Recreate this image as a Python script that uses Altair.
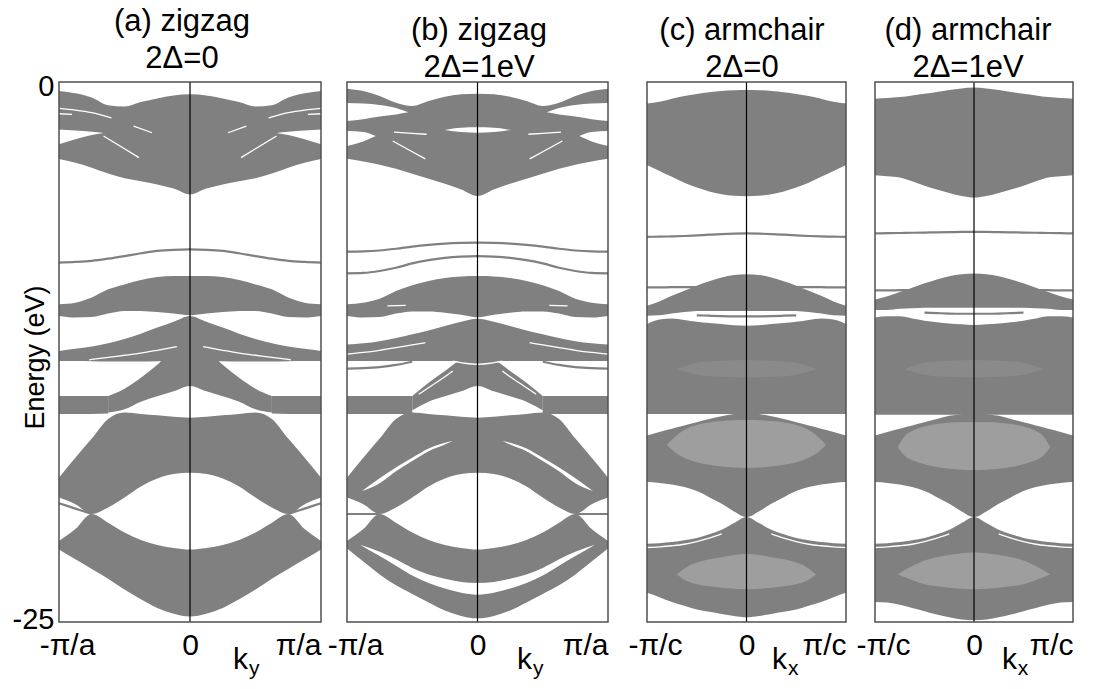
import altair as alt
import pandas as pd

FONT = "Liberation Sans, Arial, sans-serif"
GRAY = "#808080"
LIGHT = "#9e9e9e"
FAINT = "#8a8a8a"
FRAME = "#505050"

# common k grid (left half, mirrored to the right)
K = [-1.0, -0.875, -0.75, -0.625, -0.5, -0.375, -0.25, -0.125, 0.0]

# ---------------- panel (a) zigzag 2D=0 ----------------
A_G1_HI = [-0.42, -0.52, -0.72, -1.08, -1.14, -0.93, -0.76, -0.62, -0.57]
A_G1_LO = [-3.56, -3.74, -3.97, -4.24, -4.46, -4.6, -4.74, -4.93, -5.2]
A_W1_K = [-1.0, -0.875, -0.75, -0.66]
A_W1_HI = [-2.2, -2.25, -2.3, -2.36]
A_W1_LO = [-2.88, -2.65, -2.45, -2.36]
A_WL1_K = [-1.0, -0.875, -0.75, -0.6]
A_WL1 = [-1.22, -1.3, -1.42, -1.66]
A_WL2_K = [-1.0, -0.9]
A_WL2 = [-1.47, -1.5]
A_WL3_K = [-0.66, -0.5, -0.39]
A_WL3 = [-2.5, -3.09, -3.5]
A_WL4_K = [-0.43, -0.29]
A_WL4 = [-2.04, -2.35]
A_L1 = [-8.36, -8.33, -8.28, -8.18, -8.06, -7.93, -7.82, -7.77, -7.75]
A_G2_HI = [-10.29, -10.22, -9.98, -9.6, -9.37, -9.17, -9.03, -8.98, -8.98]
A_G2_LO = [-10.83, -10.9, -10.88, -10.72, -10.6, -10.6, -10.65, -10.72, -10.8]
A_G3_HI = [-12.45, -12.35, -12.25, -12.1, -11.9, -11.65, -11.37, -11.1, -10.83]
A_G3_LO = [-12.92, -12.92, -12.93, -12.94, -12.94, -12.94, -12.93, -12.92, -12.92]
A_WL5_K = [-0.77, -0.625, -0.5, -0.375, -0.25, -0.1]
A_WL5 = [-12.86, -12.75, -12.65, -12.55, -12.42, -12.25]
A_B_K = [-0.625, -0.5, -0.375, -0.25, -0.125, 0.0]
A_B_HI = [-14.54, -14.2, -13.69, -13.09, -12.38, -12.2]
A_B_LO = [-15.3, -15.15, -14.8, -14.55, -14.32, -14.07]
A_G4_K = [-1.0, -0.875, -0.75, -0.625]
A_G4_HI = [-14.54, -14.54, -14.54, -14.54]
A_G4_LO = [-15.37, -15.37, -15.37, -15.35]
A_G5_HI = [-18.32, -17.4, -16.51, -15.6, -15.3, -15.37, -15.43, -15.5, -15.54]
A_G5_LO = [-19.24, -19.55, -20.0, -19.7, -19.24, -18.73, -18.36, -18.15, -18.09]
A_G6_HI = [-21.25, -20.7, -20.0, -20.4, -20.86, -21.2, -21.43, -21.57, -21.64]
A_G6_LO = [-21.64, -22.1, -22.55, -23.0, -23.5, -23.95, -24.35, -24.62, -24.75]
A_L2_K = [-1.0, -0.875, -0.75]
A_L2 = [-19.5, -19.75, -20.0]

# ---------------- panel (b) zigzag 2D=1eV ----------------
B_G1_HI = [-0.31, -0.42, -0.65, -0.96, -1.11, -0.88, -0.68, -0.57, -0.54]
B_G1_LO = [-3.55, -3.68, -3.83, -4.02, -4.25, -4.48, -4.71, -4.98, -5.28]
B_W1_K = [-1.0, -0.875, -0.75, -0.625, -0.53]
B_W1_HI = [-0.97, -1.0, -1.06, -1.2, -1.4]
B_W1_LO = [-1.8, -1.72, -1.6, -1.5, -1.4]
B_W2_K = [-1.0, -0.875, -0.78]
B_W2_HI = [-2.27, -2.32, -2.5]
B_W2_LO = [-2.96, -2.75, -2.5]
B_W3_K = [-0.25, -0.125, 0.0]
B_W3_HI = [-2.22, -2.12, -2.1]
B_W3_LO = [-2.22, -2.32, -2.35]
B_WL1_K = [-0.64, -0.5, -0.39]
B_WL1 = [-2.32, -2.38, -2.42]
B_WL2_K = [-0.65, -0.5, -0.4]
B_WL2 = [-2.73, -3.23, -3.56]
B_L1 = [-7.85, -7.84, -7.8, -7.72, -7.62, -7.54, -7.48, -7.45, -7.44]
B_L2 = [-8.86, -8.84, -8.75, -8.6, -8.4, -8.25, -8.14, -8.08, -8.06]
B_G2_HI = [-10.29, -10.22, -10.04, -9.68, -9.41, -9.21, -9.07, -9.0, -8.98]
B_G2_LO = [-10.83, -10.9, -10.88, -10.72, -10.62, -10.62, -10.68, -10.78, -10.9]
B_WL3_K = [-0.69, -0.55]
B_WL3 = [-10.36, -10.34]
B_G3_HI = [-12.15, -12.1, -12.0, -11.85, -11.68, -11.5, -11.3, -11.1, -10.96]
B_G3_LO = [-12.92, -12.92, -12.92, -12.92, -12.92, -12.92, -12.92, -12.92, -12.92]
B_WL4_K = [-1.0, -0.875, -0.75, -0.625, -0.5, -0.4]
B_WL4 = [-12.6, -12.52, -12.42, -12.3, -12.17, -12.07]
B_L3_K = [-1.0, -0.875, -0.75, -0.625, -0.5]
B_L3 = [-13.27, -13.25, -13.2, -13.1, -12.95]
B_B_K = [-0.5, -0.375, -0.25, -0.125, 0.0]
B_B_HI = [-14.54, -13.92, -13.38, -12.84, -12.5]
B_B_LO = [-15.2, -14.8, -14.55, -14.32, -14.07]
B_G4_K = [-1.0, -0.875, -0.75, -0.625, -0.5]
B_G4_HI = [-14.54, -14.54, -14.54, -14.54, -14.54]
B_G4_LO = [-15.37, -15.37, -15.37, -15.37, -15.37]
B_WL5_K = [-0.45, -0.35, -0.25, -0.19]
B_WL5 = [-14.46, -14.05, -13.65, -13.38]
B_WL6_K = [-0.19, -0.1, 0.0]
B_WL6 = [-12.92, -13.02, -13.07]
B_G5_HI = [-18.32, -17.4, -16.51, -15.6, -15.3, -15.37, -15.43, -15.5, -15.54]
B_G5_LO = [-19.24, -19.55, -20.0, -19.7, -19.24, -18.73, -18.36, -18.15, -18.09]
B_W4_K = [-0.885, -0.75, -0.625, -0.5, -0.375, -0.25, -0.19]
B_W4_HI = [-18.94, -18.35, -17.85, -17.4, -16.97, -16.7, -16.62]
B_W4_LO = [-18.94, -18.58, -18.02, -17.55, -17.09, -16.78, -16.62]
B_G6_HI = [-21.25, -20.7, -20.0, -20.4, -20.86, -21.2, -21.43, -21.57, -21.64]
B_G6_LO = [-21.6, -22.2, -22.8, -23.3, -23.7, -24.1, -24.47, -24.72, -24.83]
B_W5_K = [-0.9, -0.75, -0.625, -0.5, -0.375, -0.25, -0.125, 0.0]
B_W5_HI = [-21.42, -21.75, -22.1, -22.5, -22.8, -23.0, -23.15, -23.2]
B_W5_LO = [-21.42, -21.95, -22.4, -22.85, -23.2, -23.45, -23.65, -23.74]
B_L4_K = [-1.0, -0.875, -0.75]
B_L4 = [-20.0, -20.0, -20.0]

# ---------------- panel (c) armchair 2D=0 ----------------
C_G1_HI = [-1.0, -0.92, -0.77, -0.65, -0.55, -0.48, -0.42, -0.38, -0.37]
C_G1_LO = [-3.84, -4.12, -4.39, -4.66, -4.89, -5.07, -5.2, -5.27, -5.29]
C_L1 = [-7.17, -7.16, -7.15, -7.13, -7.1, -7.07, -7.04, -7.02, -7.01]
C_L2 = [-9.51, -9.51, -9.5, -9.5, -9.49, -9.48, -9.47, -9.46, -9.46]
C_R1_HI = [-10.36, -10.16, -9.9, -9.66, -9.43, -9.23, -9.05, -8.93, -8.9]
C_R1_LO = [-15.37, -15.37, -15.37, -15.37, -15.37, -15.37, -15.37, -15.37, -15.37]
C_W1_HI = [-10.82, -10.8, -10.72, -10.65, -10.6, -10.6, -10.6, -10.6, -10.6]
C_W1_LO = [-11.2, -11.0, -10.95, -11.02, -11.1, -11.16, -11.2, -11.26, -11.28]
C_L3_K = [-0.5, -0.375, -0.25, -0.125, 0.0]
C_L3 = [-10.8, -10.82, -10.84, -10.85, -10.85]
C_R2_HI = [-16.37, -16.2, -16.05, -15.9, -15.75, -15.6, -15.47, -15.37, -15.3]
C_R2_LO = [-18.52, -18.56, -18.63, -18.75, -18.94, -19.22, -19.53, -19.88, -20.14]
C_R3_HI = [-21.38, -21.35, -21.3, -21.22, -21.11, -20.94, -20.73, -20.42, -20.14]
C_R3_LO = [-23.65, -23.85, -24.07, -24.25, -24.42, -24.53, -24.63, -24.72, -24.78]
C_WL1_K = [-1.0, -0.875, -0.75, -0.625, -0.5, -0.375, -0.25]
C_WL1 = [-21.55, -21.52, -21.47, -21.4, -21.28, -21.12, -20.92]
C_LS0_K = [-0.7, -0.5, -0.25, 0.0]
C_LS0_HI = [-13.3, -13.0, -12.9, -12.88]
C_LS0_LO = [-13.3, -13.55, -13.65, -13.68]
C_LS1_K = [-0.8, -0.7, -0.6, -0.5, -0.375, -0.25, -0.125, 0.0]
C_LS1_HI = [-16.8, -16.35, -16.05, -15.88, -15.76, -15.7, -15.66, -15.65]
C_LS1_LO = [-16.8, -17.2, -17.45, -17.6, -17.72, -17.8, -17.85, -17.87]
C_LS2_K = [-0.7, -0.6, -0.5, -0.375, -0.25, -0.125, 0.0]
C_LS2_HI = [-22.8, -22.45, -22.25, -22.1, -22.0, -21.9, -21.85]
C_LS2_LO = [-22.8, -23.1, -23.25, -23.35, -23.42, -23.46, -23.48]

# ---------------- panel (d) armchair 2D=1eV ----------------
D_G1_HI = [-0.77, -0.74, -0.7, -0.62, -0.54, -0.46, -0.37, -0.3, -0.26]
D_G1_LO = [-4.32, -4.36, -4.42, -4.6, -4.8, -4.98, -5.14, -5.28, -5.35]
D_L1 = [-7.01, -7.0, -6.99, -6.98, -6.97, -6.96, -6.95, -6.94, -6.94]
D_L2 = [-9.65, -9.65, -9.64, -9.63, -9.62, -9.61, -9.6, -9.6, -9.6]
D_R1_HI = [-10.07, -9.92, -9.72, -9.52, -9.32, -9.14, -8.99, -8.9, -8.86]
D_R1_LO = [-15.41, -15.41, -15.41, -15.41, -15.41, -15.41, -15.41, -15.41, -15.41]
D_W1_HI = [-10.55, -10.55, -10.5, -10.48, -10.45, -10.45, -10.45, -10.45, -10.45]
D_W1_LO = [-10.9, -10.85, -10.85, -10.95, -11.05, -11.12, -11.18, -11.22, -11.25]
D_L3_K = [-0.5, -0.375, -0.25, -0.125, 0.0]
D_L3 = [-10.68, -10.7, -10.72, -10.73, -10.73]
D_R2_HI = [-16.37, -16.2, -16.05, -15.9, -15.75, -15.6, -15.45, -15.38, -15.3]
D_R2_LO = [-18.52, -18.56, -18.63, -18.75, -18.94, -19.22, -19.53, -19.88, -20.14]
D_R3_HI = [-21.38, -21.35, -21.3, -21.22, -21.11, -20.94, -20.73, -20.42, -20.14]
D_R3_LO = [-24.07, -24.1, -24.2, -24.35, -24.5, -24.65, -24.78, -24.88, -24.92]
D_WL1_K = [-1.0, -0.875, -0.75, -0.625, -0.5, -0.375, -0.25]
D_WL1 = [-21.55, -21.52, -21.47, -21.4, -21.28, -21.12, -20.92]
D_LS0_K = [-0.7, -0.5, -0.25, 0.0]
D_LS0_HI = [-13.3, -13.0, -12.9, -12.88]
D_LS0_LO = [-13.3, -13.55, -13.65, -13.68]
D_LS1_K = [-0.77, -0.7, -0.6, -0.5, -0.375, -0.25, -0.125, 0.0]
D_LS1_HI = [-16.9, -16.4, -16.1, -15.95, -15.83, -15.77, -15.75, -15.75]
D_LS1_LO = [-16.9, -17.3, -17.55, -17.7, -17.82, -17.9, -17.95, -17.97]
D_LS2_K = [-0.77, -0.6, -0.5, -0.375, -0.25, -0.125, 0.0]
D_LS2_HI = [-22.8, -22.35, -22.15, -22.0, -21.9, -21.82, -21.78]
D_LS2_LO = [-22.8, -23.1, -23.25, -23.35, -23.42, -23.46, -23.48]


def mirrored(name, ks, hi, lo=None):
    pts = [(k, hi[i], (lo[i] if lo is not None else None)) for i, k in enumerate(ks)]
    rows = []
    if abs(pts[-1][0]) < 1e-9:
        for k, h, l in pts:
            rows.append({"id": name, "k": k, "hi": h, "lo": l})
        for k, h, l in reversed(pts[:-1]):
            rows.append({"id": name, "k": -k, "hi": h, "lo": l})
    else:
        for k, h, l in pts:
            rows.append({"id": name + "L", "k": k, "hi": h, "lo": l})
        for k, h, l in reversed(pts):
            rows.append({"id": name + "R", "k": -k, "hi": h, "lo": l})
    return rows


def table(items):
    rows = []
    for it in items:
        rows += mirrored(*it)
    return pd.DataFrame(rows)


PANELS = {
    "a": {
        "gray": [("g1", K, A_G1_HI, A_G1_LO), ("g2", K, A_G2_HI, A_G2_LO), ("g3", K, A_G3_HI, A_G3_LO),
                 ("b", A_B_K, A_B_HI, A_B_LO), ("g4", A_G4_K, A_G4_HI, A_G4_LO),
                 ("g5", K, A_G5_HI, A_G5_LO), ("g6", K, A_G6_HI, A_G6_LO)],
        "white": [("w1", A_W1_K, A_W1_HI, A_W1_LO)],
        "glines": [("l1", K, A_L1), ("l2", A_L2_K, A_L2)],
        "wlines": [("wl1", A_WL1_K, A_WL1), ("wl2", A_WL2_K, A_WL2), ("wl3", A_WL3_K, A_WL3),
                   ("wl4", A_WL4_K, A_WL4), ("wl5", A_WL5_K, A_WL5)],
    },
    "b": {
        "gray": [("g1", K, B_G1_HI, B_G1_LO), ("g2", K, B_G2_HI, B_G2_LO), ("g3", K, B_G3_HI, B_G3_LO),
                 ("b", B_B_K, B_B_HI, B_B_LO), ("g4", B_G4_K, B_G4_HI, B_G4_LO),
                 ("g5", K, B_G5_HI, B_G5_LO), ("g6", K, B_G6_HI, B_G6_LO)],
        "white": [("w1", B_W1_K, B_W1_HI, B_W1_LO), ("w2", B_W2_K, B_W2_HI, B_W2_LO),
                  ("w3", B_W3_K, B_W3_HI, B_W3_LO), ("w4", B_W4_K, B_W4_HI, B_W4_LO),
                  ("w5", B_W5_K, B_W5_HI, B_W5_LO)],
        "glines": [("l1", K, B_L1), ("l2", K, B_L2), ("l3", B_L3_K, B_L3), ("l4", B_L4_K, B_L4)],
        "wlines": [("wl1", B_WL1_K, B_WL1), ("wl2", B_WL2_K, B_WL2), ("wl3", B_WL3_K, B_WL3),
                   ("wl4", B_WL4_K, B_WL4), ("wl5", B_WL5_K, B_WL5), ("wl6", B_WL6_K, B_WL6)],
    },
    "c": {
        "gray": [("g1", K, C_G1_HI, C_G1_LO), ("r1", K, C_R1_HI, C_R1_LO),
                 ("r2", K, C_R2_HI, C_R2_LO), ("r3", K, C_R3_HI, C_R3_LO)],
        "faint": [("s0", C_LS0_K, C_LS0_HI, C_LS0_LO)],
        "light": [("s1", C_LS1_K, C_LS1_HI, C_LS1_LO), ("s2", C_LS2_K, C_LS2_HI, C_LS2_LO)],
        "white": [("w1", K, C_W1_HI, C_W1_LO)],
        "glines": [("l1", K, C_L1), ("l2", K, C_L2), ("l3", C_L3_K, C_L3)],
        "wlines": [("wl1", C_WL1_K, C_WL1)],
    },
    "d": {
        "gray": [("g1", K, D_G1_HI, D_G1_LO), ("r1", K, D_R1_HI, D_R1_LO),
                 ("r2", K, D_R2_HI, D_R2_LO), ("r3", K, D_R3_HI, D_R3_LO)],
        "faint": [("s0", D_LS0_K, D_LS0_HI, D_LS0_LO)],
        "light": [("s1", D_LS1_K, D_LS1_HI, D_LS1_LO), ("s2", D_LS2_K, D_LS2_HI, D_LS2_LO)],
        "white": [("w1", K, D_W1_HI, D_W1_LO)],
        "glines": [("l1", K, D_L1), ("l2", K, D_L2), ("l3", D_L3_K, D_L3)],
        "wlines": [("wl1", D_WL1_K, D_WL1)],
    },
}

H = 540


def panel(key, width, xmax, title, dx, unit, sub, kx, subx, show_y):
    p = PANELS[key]
    xs = alt.Scale(domain=[-1, xmax], nice=False, zero=False, padding=0)
    ys = alt.Scale(domain=[-25, 0], nice=False, zero=False)
    xaxis = alt.Axis(
        values=[-1, 0, 1],
        labelExpr=f"datum.value < 0 ? '-\u03c0/{unit}' : (datum.value > 0 ? '\u03c0/{unit}' : '0')",
        domain=False, ticks=False, tickSize=0, grid=False,
        labelFontSize=30, labelFont=FONT, labelColor="black", labelPadding=8,
        labelFlush=False, labelOverlap=False,
        labelAlign={"condition": {"test": "datum.value > 0", "value": "right"}, "value": "center"},
        labelOffset={"condition": {"test": "datum.value < 0", "value": 8}, "value": 0},
        title=None,
    )
    if show_y:
        yaxis = alt.Axis(
            values=[0, -25], labelExpr="datum.value == 0 ? '0' : '-25'",
            domain=False, ticks=False, tickSize=0, grid=False,
            labelFontSize=29, labelFont=FONT, labelColor="black", labelPadding=5,
            labelOffset={"condition": {"test": "datum.value == 0", "value": 4}, "value": -3},
            labelFlush=False,
            title="Energy (eV)", titleFontSize=27, titleFont=FONT, titleFontWeight="normal",
            titleColor="black", titleAngle=270, titleX=-24, titleY=275,
            titleAlign="center", titleBaseline="middle",
        )
    else:
        yaxis = None
    X = alt.X("k:Q", scale=xs, axis=xaxis)
    Y = alt.Y("hi:Q", scale=ys, axis=yaxis)

    layers = [
        alt.Chart(table(p["gray"])).mark_area(color=GRAY, interpolate="monotone")
        .encode(x=X, y=Y, y2="lo:Q", detail="id:N")
    ]
    if p.get("faint"):
        layers.append(alt.Chart(table(p["faint"])).mark_area(color=FAINT, interpolate="monotone")
                      .encode(x=X, y=Y, y2="lo:Q", detail="id:N"))
    if p.get("light"):
        layers.append(alt.Chart(table(p["light"])).mark_area(color=LIGHT, interpolate="monotone")
                      .encode(x=X, y=Y, y2="lo:Q", detail="id:N"))
    if p.get("white"):
        layers.append(alt.Chart(table(p["white"])).mark_area(color="white", interpolate="monotone")
                      .encode(x=X, y=Y, y2="lo:Q", detail="id:N"))
    layers.append(alt.Chart(table(p["glines"])).mark_line(color=GRAY, strokeWidth=2.2, interpolate="monotone")
                  .encode(x=X, y=Y, detail="id:N"))
    layers.append(alt.Chart(table(p["wlines"])).mark_line(color="white", strokeWidth=1.3, interpolate="monotone")
                  .encode(x=X, y=Y, detail="id:N"))
    layers.append(alt.Chart(pd.DataFrame({"k": [0.0]})).mark_rule(color="black", strokeWidth=1.2)
                  .encode(x=X))
    layers.append(alt.Chart(pd.DataFrame({"k": [-1.0], "k2": [1.0], "hi": [0.0], "lo": [-25.0]}))
                  .mark_rect(filled=False, color=FRAME, strokeWidth=1.5)
                  .encode(x=X, x2="k2:Q", y=Y, y2="lo:Q"))
    layers.append(alt.Chart(pd.DataFrame({"k": [kx], "t": ["k"]}))
                  .mark_text(font=FONT, fontSize=30, color="black", align="left", baseline="alphabetic")
                  .encode(x=X, y=alt.value(587), text="t:N"))
    layers.append(alt.Chart(pd.DataFrame({"k": [subx], "t": [sub]}))
                  .mark_text(font=FONT, fontSize=21, color="black", align="left", baseline="alphabetic")
                  .encode(x=X, y=alt.value(593), text="t:N"))

    return alt.layer(*layers).properties(
        width=width, height=H,
        title=alt.TitleParams(text=title, fontSize=31, font=FONT, fontWeight="normal", color="black",
                              anchor="middle", frame="group", offset=-3, lineHeight=37, dx=dx),
    )


pa = panel("a", 262, 1.0, ["(a) zigzag", "2\u0394=0"], -8, "a", "y", 0.328, 0.45, True)
pb = panel("b", 274, 1.0996, ["(b) zigzag", "2\u0394=1eV"], -5, "a", "y", 0.302, 0.425, False)
pc = panel("c", 202, 1.0302, ["(c) armchair", "2\u0394=0"], -6, "c", "x", 0.256, 0.417, False)
pd_ = panel("d", 198, 1.0, ["(d) armchair", "2\u0394=1eV"], -6, "c", "x", 0.282, 0.443, False)

chart = (
    alt.hconcat(pa, pb, pc, pd_, spacing=26, bounds="flush")
    .properties(padding={"left": 12, "top": 6, "right": 5, "bottom": 5}, background="white")
    .configure_view(stroke=None)
)

chart.save("out.html", embed_options={"renderer": "svg", "actions": False})
